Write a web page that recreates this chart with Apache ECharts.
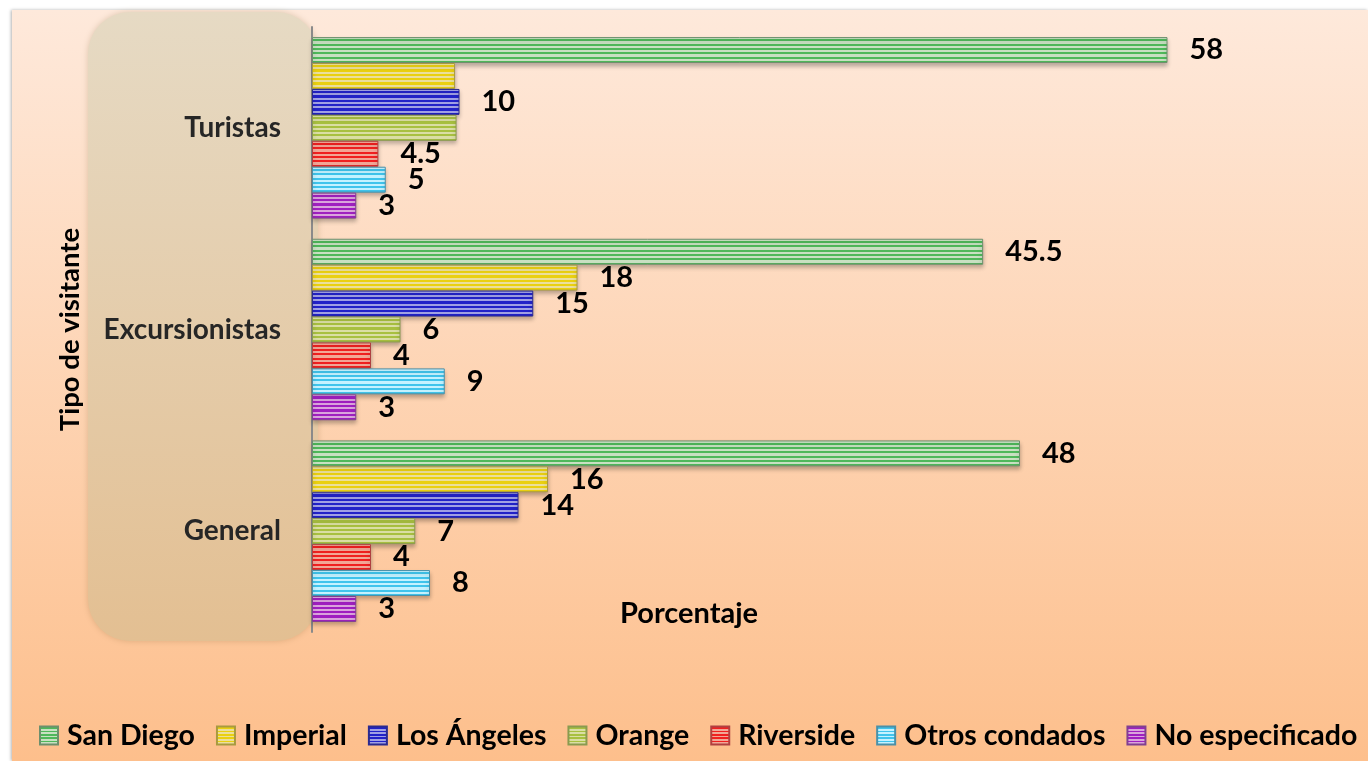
<!DOCTYPE html>
<html>
<head>
<meta charset="utf-8">
<script src="https://cdn.jsdelivr.net/npm/echarts@6/dist/echarts.min.js"></script>
<style>
  html, body { margin: 0; padding: 0; background: #fff; }
  #chart { width: 1368px; height: 761px; }
</style>
</head>
<body>
<div id="chart"></div>
<script>
// 数据
const categories = ['Turistas', 'Excursionistas', 'General'];
const seriesNames = ['San Diego', 'Imperial', 'Los Ángeles', 'Orange', 'Riverside', 'Otros condados', 'No especificado'];
const sanDiego = [58, 45.5, 48];
const imperial = [9.7, 18, 16];
const losAngeles = [10, 15, 14];
const orange = [9.8, 6, 7];
const riverside = [4.5, 4, 4];
const otrosCondados = [5, 9, 8];
const noEspecificado = [3, 3, 3];
// etiquetas que no aparecen en la imagen (serie, categoría)
const hiddenLabels = [[1, 0], [3, 0]];

// colores: oscuro, claro, borde
const palette = [
    ['#4fb85a', '#c8e0c2', '#6d8f6d'],
    ['#ead010', '#ebdf9c', '#a89a40'],
    ['#2222c8', '#a0a0e4', '#2a2a90'],
    ['#a8c040', '#dadea4', '#8a9a50'],
    ['#f02020', '#f2a696', '#b04040'],
    ['#40c4ec', '#c4f2ff', '#4a90a8'],
    ['#a020c0', '#daa4dc', '#804090']
];

// franjas horizontales
function stripes(dark, light, n) {
    const stops = [];
    for (let i = 0; i < n; i++) {
        const a = i / n, m = (i + 0.5) / n, b = (i + 1) / n;
        stops.push({ offset: a, color: light }, { offset: m, color: light },
                   { offset: m, color: dark }, { offset: b, color: dark });
    }
    return new echarts.graphic.LinearGradient(0, 0, 0, 1, stops);
}

const values = [sanDiego, imperial, losAngeles, orange, riverside, otrosCondados, noEspecificado];
const FONT = 'Lato, "Open Sans", sans-serif';

const series = values.map((vals, si) => ({
    name: seriesNames[si],
    type: 'bar',
    barGap: '0%',
    barCategoryGap: '10%',
    data: vals.map((v, ci) => {
        const hide = hiddenLabels.some(h => h[0] === si && h[1] === ci);
        return hide ? { value: v, label: { show: false } } : v;
    }),
    itemStyle: {
        color: stripes(palette[si][0], palette[si][1], 6),
        borderColor: palette[si][2],
        borderWidth: 1,
        shadowColor: 'rgba(0,0,0,0.25)',
        shadowBlur: 4,
        shadowOffsetY: 3
    },
    label: {
        show: true,
        position: 'right',
        distance: 22,
        fontFamily: FONT,
        fontWeight: 'bold',
        fontSize: 29,
        color: '#000'
    }
}));

const chart = echarts.init(document.getElementById('chart'));
chart.setOption({
    backgroundColor: '#fff',
    animation: false,
    title: {
        text: 'Porcentaje',
        left: 615,
        top: 594,
        textStyle: { fontFamily: FONT, fontWeight: 'bold', fontSize: 29, color: '#000' }
    },
    graphic: [
        {
            type: 'rect', z: -20, silent: true,
            shape: { x: 12, y: 10, width: 1356, height: 751 },
            style: {
                fill: new echarts.graphic.LinearGradient(0, 0, 0, 1, [
                    { offset: 0, color: '#fee9db' }, { offset: 1, color: '#fdbf8c' }
                ]),
                shadowColor: 'rgba(0,0,0,0.3)', shadowBlur: 3, shadowOffsetX: -1
            }
        },
        {
            type: 'rect', z: -10, silent: true,
            shape: { x: 88, y: 12, width: 230, height: 629, r: 42 },
            style: {
                fill: new echarts.graphic.LinearGradient(0, 0, 0, 1, [
                    { offset: 0, color: '#e6dac4' }, { offset: 1, color: '#e3bf92' }
                ]),
                shadowColor: 'rgba(120,90,40,0.25)', shadowBlur: 6
            }
        }
    ],
    legend: {
        left: 34,
        top: 716,
        itemWidth: 18,
        itemHeight: 18,
        itemGap: 21,
        icon: 'rect',
        textStyle: { fontFamily: FONT, fontWeight: 'bold', fontSize: 28.5, color: '#000', padding: [0, 0, 0, 4] },
        data: seriesNames
    },
    grid: { left: 312, right: 23.5, top: 27, bottom: 129 },
    xAxis: {
        type: 'value',
        min: 0,
        max: 70,
        show: false
    },
    yAxis: {
        type: 'category',
        inverse: true,
        data: categories,
        name: 'Tipo de visitante',
        nameLocation: 'middle',
        nameRotate: 90,
        nameGap: 228,
        nameTextStyle: { fontFamily: FONT, fontWeight: 'bold', fontSize: 27.5, color: '#000' },
        axisLine: { lineStyle: { color: '#8a8a8a', width: 2 } },
        axisTick: { show: false },
        axisLabel: { margin: 31, fontFamily: FONT, fontWeight: 'bold', fontSize: 28, color: '#262626' }
    },
    series: series
});
</script>
</body>
</html>
